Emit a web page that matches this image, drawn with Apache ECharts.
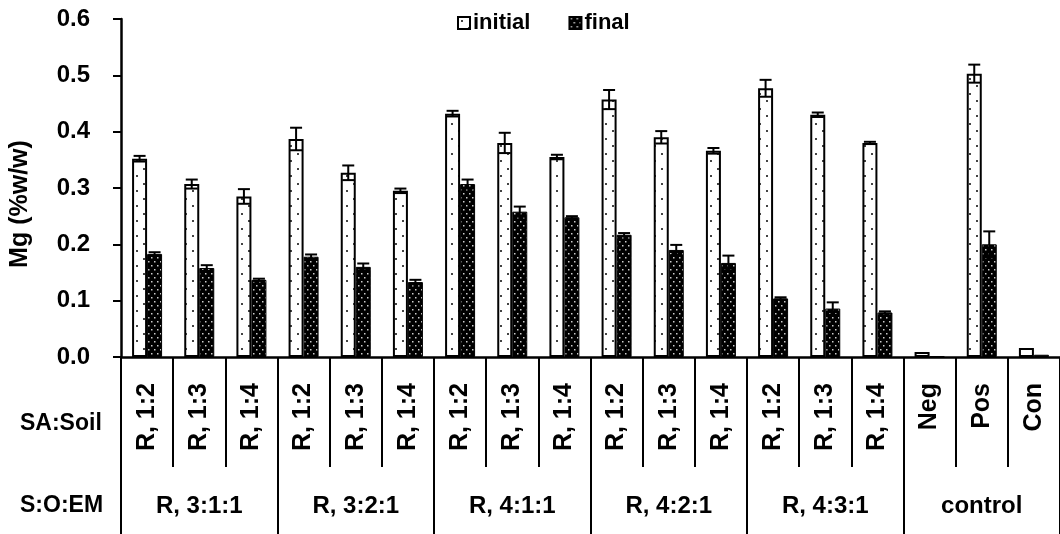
<!DOCTYPE html>
<html>
<head>
<meta charset="utf-8">
<script src="https://cdn.jsdelivr.net/npm/echarts@6/dist/echarts.min.js"></script>
<style>
  html, body { margin: 0; padding: 0; background: #fff; }
  #chart { width: 1060px; height: 534px; }
</style>
</head>
<body>
<div id="chart"></div>
<script>
// categories and groups
const categories = ['R, 1:2', 'R, 1:3', 'R, 1:4', 'R, 1:2', 'R, 1:3', 'R, 1:4',
  'R, 1:2', 'R, 1:3', 'R, 1:4', 'R, 1:2', 'R, 1:3', 'R, 1:4',
  'R, 1:2', 'R, 1:3', 'R, 1:4', 'Neg', 'Pos', 'Con']
const groups = ['R, 3:1:1', 'R, 3:2:1', 'R, 4:1:1', 'R, 4:2:1', 'R, 4:3:1', 'control']

// values
const initialValues = [0.352, 0.307, 0.285, 0.387, 0.327, 0.295, 0.432, 0.380, 0.355,
  0.457, 0.390, 0.366, 0.477, 0.430, 0.380, 0.009, 0.503, 0.016]
const initialErrors = [0.005, 0.008, 0.013, 0.020, 0.013, 0.004, 0.005, 0.018, 0.004,
  0.017, 0.011, 0.005, 0.015, 0.004, 0.002, 0, 0.016, 0]
const finalValues = [0.183, 0.158, 0.137, 0.178, 0.160, 0.133, 0.307, 0.258, 0.248,
  0.217, 0.190, 0.167, 0.104, 0.086, 0.079, 0.001, 0.200, 0.004]
const finalErrors = [0.003, 0.005, 0.002, 0.004, 0.006, 0.004, 0.008, 0.009, 0.002,
  0.003, 0.009, 0.013, 0.002, 0.011, 0.002, 0, 0.023, 0]

const yTicks = [0, 0.1, 0.2, 0.3, 0.4, 0.5, 0.6]

const FONT = "'Liberation Sans', Arial, sans-serif"

// dotted fills
function makePattern(bg, dot, w, h, dots, size) {
  const c = document.createElement('canvas')
  c.width = w
  c.height = h
  const ctx = c.getContext('2d')
  ctx.fillStyle = bg
  ctx.fillRect(0, 0, w, h)
  ctx.fillStyle = dot
  dots.forEach(([x, y]) => ctx.fillRect(x, y, size, size))
  return c
}
const initialFill = makePattern('#ffffff', '#444444', 14, 15, [[3, 3], [10, 10]], 2)
const finalFill = makePattern('#000000', '#cccccc', 6, 8, [[1, 1], [4, 5]], 1.5)

const errData = (vals, errs) => vals.map((v, i) => [i, v - errs[i], v + errs[i], errs[i]])

const errorBars = (name, vals, errs, offset) => ({
  name: name,
  type: 'custom',
  xAxisIndex: 0,
  z: 5,
  silent: true,
  data: errData(vals, errs),
  renderItem: (params, api) => {
    if (!api.value(3)) return
    const lo = api.coord([api.value(0), api.value(1)])
    const hi = api.coord([api.value(0), api.value(2)])
    const cx = lo[0] + offset
    const half = 6
    const style = { stroke: '#000', lineWidth: 2 }
    return {
      type: 'group',
      children: [
        { type: 'line', shape: { x1: cx, y1: lo[1], x2: cx, y2: hi[1] }, style },
        { type: 'line', shape: { x1: cx - half, y1: lo[1], x2: cx + half, y2: lo[1] }, style },
        { type: 'line', shape: { x1: cx - half, y1: hi[1], x2: cx + half, y2: hi[1] }, style }
      ]
    }
  }
})

const chart = echarts.init(document.getElementById('chart'))

const option = {
  animation: false,
  textStyle: { fontFamily: FONT },
  grid: { left: 121, top: 19, width: 943, bottom: 177 },
  legend: {
    data: ['initial', 'final'],
    left: 452,
    top: 7,
    icon: 'rect',
    itemWidth: 12,
    itemHeight: 12,
    itemGap: 38,
    textStyle: { fontFamily: FONT, fontWeight: 'bold', fontSize: 22, color: '#000', padding: [0, 0, 0, -2] }
  },
  xAxis: [
    {
      type: 'category',
      data: categories,
      position: 'bottom',
      axisLine: { show: true, lineStyle: { color: '#000', width: 2.5 } },
      axisTick: { show: true, interval: 0, length: 110, lineStyle: { color: '#000', width: 2 } },
      axisLabel: {
        interval: 0, rotate: 90, margin: 26,
        fontFamily: FONT, fontWeight: 'bold', fontSize: 25, color: '#000'
      }
    },
    {
      type: 'category',
      data: groups,
      position: 'bottom',
      offset: 0,
      axisLine: { show: false },
      axisTick: { show: true, interval: 0, length: 180, lineStyle: { color: '#000', width: 2 } },
      axisLabel: {
        interval: 0, margin: 137,
        fontFamily: FONT, fontWeight: 'bold', fontSize: 24, color: '#000'
      }
    }
  ],
  yAxis: {
    type: 'value',
    min: yTicks[0],
    max: yTicks[yTicks.length - 1],
    interval: 0.1,
    name: 'Mg (%w/w)',
    nameLocation: 'middle',
    nameGap: 88,
    nameTextStyle: {
      fontFamily: FONT, fontWeight: 'bold', fontSize: 25, color: '#000',
      padding: [0, 32, 0, 0]
    },
    axisLine: { show: true, lineStyle: { color: '#000', width: 2.5 } },
    axisTick: { show: true, length: 8, lineStyle: { color: '#000', width: 2 } },
    splitLine: { show: false },
    axisLabel: {
      margin: 31,
      fontFamily: FONT, fontWeight: 'bold', fontSize: 24, color: '#000',
      formatter: v => v.toFixed(1)
    }
  },
  graphic: [
    {
      type: 'text', left: 20, top: 412,
      style: { text: 'SA:Soil', font: "bold 23px 'Liberation Sans', Arial", fill: '#000' }
    },
    {
      type: 'text', left: 20, top: 494,
      style: { text: 'S:O:EM', font: "bold 23px 'Liberation Sans', Arial", fill: '#000' }
    }
  ],
  series: [
    {
      name: 'initial',
      type: 'bar',
      xAxisIndex: 0,
      barWidth: 15,
      barGap: '0%',
      itemStyle: { color: { image: initialFill, repeat: 'repeat' }, borderColor: '#000', borderWidth: 2 },
      data: initialValues
    },
    {
      name: 'final',
      type: 'bar',
      xAxisIndex: 0,
      barWidth: 15,
      itemStyle: { color: { image: finalFill, repeat: 'repeat' }, borderColor: '#000', borderWidth: 1 },
      data: finalValues
    },
    errorBars('initialErr', initialValues, initialErrors, -7.5),
    errorBars('finalErr', finalValues, finalErrors, 7.5)
  ]
}

chart.setOption(option)
</script>
</body>
</html>
